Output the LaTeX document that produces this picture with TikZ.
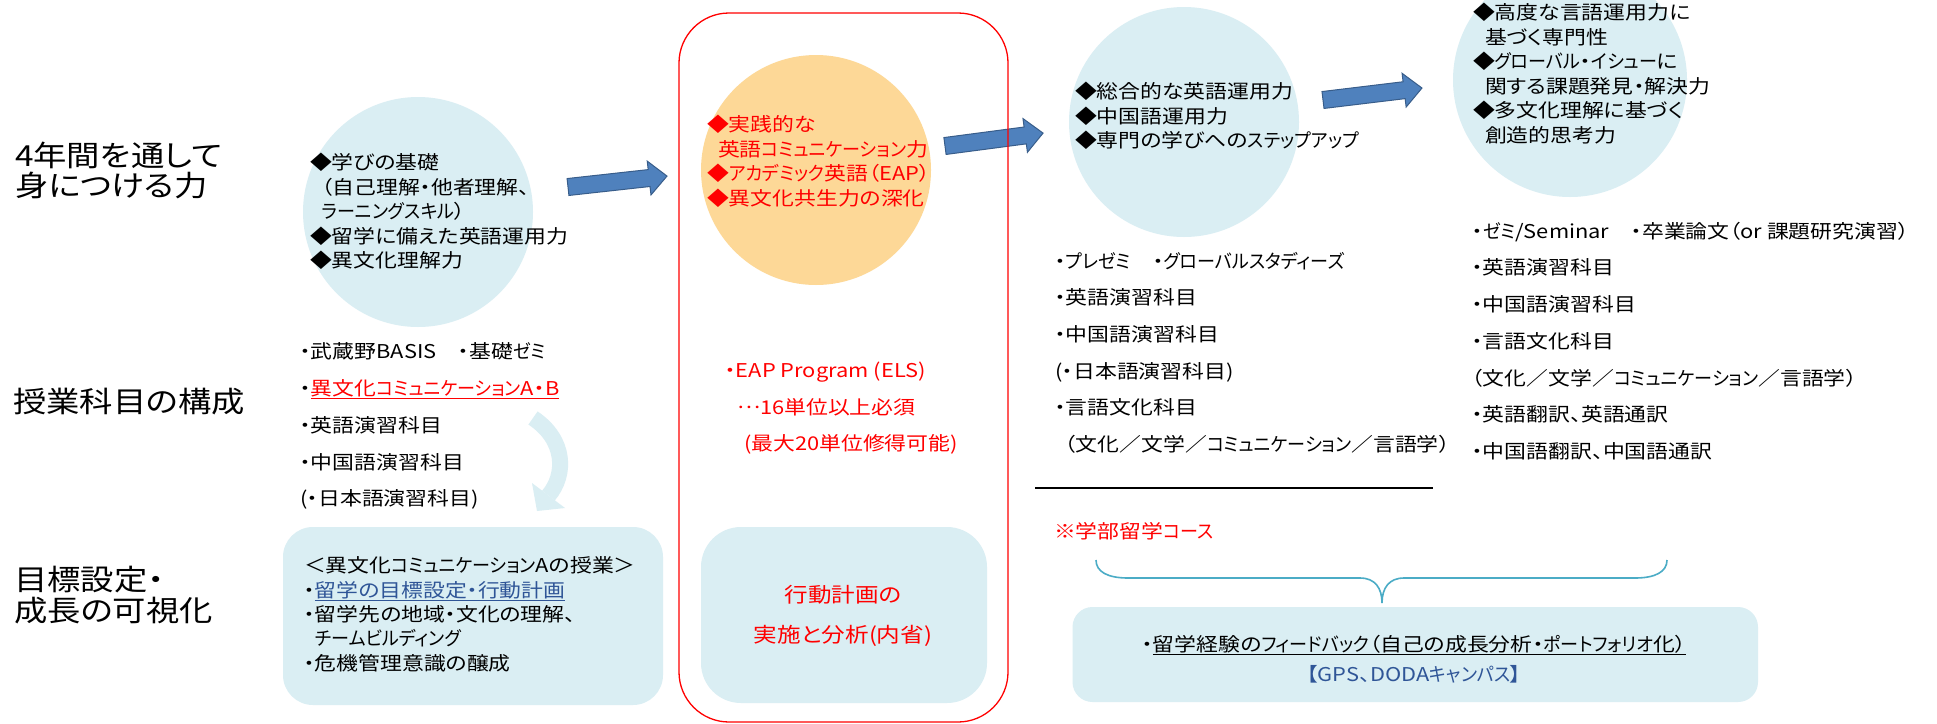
\documentclass[tikz,border=0pt]{standalone}
\usepackage{fontspec}
\setmainfont{Noto Sans CJK JP}[FakeStretch=1.15,RawFeature=+palt]
\newfontfamily\kanafont{Noto Sans CJK JP}[FakeStretch=0.95,RawFeature=+palt]
\newcommand\kt[1]{{\kanafont#1}}
\definecolor{lblue}{RGB}{218,238,243}
\definecolor{orng}{RGB}{253,216,151}
\definecolor{abl}{RGB}{79,129,189}
\definecolor{abd}{RGB}{56,93,138}
\definecolor{dkblue}{RGB}{47,85,151}
\definecolor{brc}{RGB}{75,172,198}
\newcommand\myul[1]{\setbox0\hbox{#1}\rlap{\rule[-3.6pt]{\wd0}{1.1pt}}\box0}
\tikzset{
  txt/.style={inner sep=0pt, outer sep=0pt, align=left, anchor=north west},
  body/.style={txt, font=\fontsize{19}{24.6}\selectfont},
  list/.style={txt, font=\fontsize{19}{36.7}\selectfont},
  lab/.style={txt, font=\fontsize{29}{30}\selectfont},
  bubble/.style={circle, draw=none, fill=lblue, minimum size=230pt, inner sep=0pt},
  panel/.style={rectangle, fill=lblue, draw=none, inner sep=0pt},
  barrow/.style={fill=abl, draw=abd, line width=1pt},
}
\begin{document}
\begin{tikzpicture}[x=1pt,y=-1pt]
\useasboundingbox (0,0) rectangle (1937,723);
\fill[white] (0,0) rectangle (1937,723);

% bubbles
\node[bubble] (c1) at (418,212) {};
\node[bubble, fill=orng] (c2) at (816,170) {};
\node[bubble] (c3) at (1184,122) {};
\node[bubble, minimum size=234pt] (c4) at (1570,80) {};

% panels
\node[panel, rounded corners=30pt, minimum width=380pt, minimum height=178pt] (p1) at (473,616) {};
\node[panel, rounded corners=40pt, minimum width=286pt, minimum height=176pt] (p2) at (844,615) {};
\node[panel, rounded corners=20pt, minimum width=685.5pt, minimum height=95pt] (p3) at (1415.25,654.5) {};

% row labels
\node[lab] (lab1) at (15,142) {4年間を通して\\身につける力};
\node[lab] (lab2) at (13,388) {授業科目の構成};
\node[lab, font=\fontsize{29}{31.5}\selectfont] (lab3) at (14,566) {目標設定・\\成長の可視化};

% column 1
\node[body] (t1) at (310,153) {◆学びの基礎\\\hspace*{12pt}（自己理解・他者理解、\\\hspace*{12pt}\kt{ラーニングスキル}）\\◆留学に備えた英語運用力\\◆異文化理解力};
\node[list] (l1) at (300,343) {・武蔵野BASIS　・基礎\kt{ゼミ}\\・\textcolor{red}{\myul{異文化\kt{コミュニケーション}A・B}}\\・英語演習科目\\・中国語演習科目\\(・日本語演習科目)};
\node[body, font=\fontsize{19}{24.3}\selectfont] (b1) at (304,557) {＜異文化\kt{コミュニケーション}Aの授業＞\\・\textcolor{dkblue}{\myul{留学の目標設定・行動計画}}\\・留学先の地域・文化の理解、\\\phantom{・}\kt{チームビルディング}\\・危機管理意識の醸成};

% curved arrow
\coordinate (ca1) at (533,418);
\coordinate (ca2) at (548.5,495.5);
\draw[lblue, line width=16pt] (ca1) .. controls (566,440) and (566,475) .. (ca2);
\fill[lblue] (532,483) -- (565,508) -- (537,511) -- cycle;

% column 2
\node[body, text=red] (t2) at (707,115) {◆実践的な\\\hspace*{11pt}英語\kt{コミュニケーション}力\\◆\kt{アカデミック}英語（EAP）\\◆異文化共生力の深化};
\node[list, text=red] (l2) at (725,362) {・EAP Program (ELS)\\\hspace*{12pt}\raisebox{6pt}{…}16単位以上必須\\\hspace*{19pt}(最大20単位修得可能)};
\node[txt, anchor=north, align=center, text=red, font=\fontsize{20.5}{40}\selectfont] (b2) at (843,585) {行動計画の\\実施と分析(内省)};

% column 3
\node[body] (t3) at (1075,82) {◆総合的な英語運用力\\◆中国語運用力\\◆専門の学びへの\kt{ステップアップ}};
\node[list] (l3) at (1055,252) {・\kt{プレゼミ}　・\kt{グローバルスタディーズ}\\・英語演習科目\\・中国語演習科目\\(・日本語演習科目)\\・言語文化科目\\\hspace*{10pt}（文化／文学／\kt{コミュニケーション}／言語学）};
\coordinate (hl1) at (1035,488);
\coordinate (hl2) at (1433,488);
\draw[black, line width=1.2pt] (hl1) -- (hl2);
\node[txt, text=red, font=\fontsize{19}{24}\selectfont] (note) at (1054,522) {※学部留学\kt{コース}};

% brace
\coordinate (brL) at (1096,560);
\coordinate (brM) at (1382,603);
\coordinate (brR) at (1667,560);
\draw[brc, line width=1.6pt] (brL) .. controls (1096,572) and (1108,578) .. (1128,578) -- (1360,578)
  .. controls (1375,578) and (1382,588) .. (brM) .. controls (1382,588) and (1389,578) .. (1404,578)
  -- (1635,578) .. controls (1655,578) and (1667,572) .. (brR);

\node[txt, anchor=north, align=center, font=\fontsize{19}{30}\selectfont] (b3) at (1414,635) {・\myul{留学経験の\kt{フィードバック}（自己の成長分析・\kt{ポートフォリオ}化）}\\\textcolor{dkblue}{【GPS、DODA\kt{キャンパス}】}};

% column 4
\node[body] (t4) at (1473,3) {◆高度な言語運用力に\\\hspace*{12pt}基づく専門性\\◆\kt{グローバル}・\kt{イシュー}に\\\hspace*{12pt}関する課題発見・解決力\\◆多文化理解に基づく\\\hspace*{12pt}創造的思考力};
\node[list] (l4) at (1472,222) {・\kt{ゼミ}/Seminar　・卒業論文（or 課題研究演習）\\・英語演習科目\\・中国語演習科目\\・言語文化科目\\（文化／文学／\kt{コミュニケーション}／言語学）\\・英語翻訳、英語通訳\\・中国語翻訳、中国語通訳};

% block arrows
\coordinate (a1) at (568,187);
\coordinate (a2) at (945,146);
\coordinate (a3) at (1323,100);
\begin{scope}[shift={(a1)}, rotate=6.3]
  \draw[barrow] (0,-8.5) -- (81.6,-8.5) -- (81.6,-17) -- (99.6,0) -- (81.6,17) -- (81.6,8.5) -- (0,8.5) -- cycle;
\end{scope}
\begin{scope}[shift={(a2)}, rotate=7.5]
  \draw[barrow] (0,-8.5) -- (80.9,-8.5) -- (80.9,-17) -- (98.9,0) -- (80.9,17) -- (80.9,8.5) -- (0,8.5) -- cycle;
\end{scope}
\begin{scope}[shift={(a3)}, rotate=6.9]
  \draw[barrow] (0,-8.5) -- (81.7,-8.5) -- (81.7,-17) -- (99.7,0) -- (81.7,17) -- (81.7,8.5) -- (0,8.5) -- cycle;
\end{scope}

% red frame
\node[draw=red, line width=1.3pt, rounded corners=50pt, minimum width=329pt, minimum height=709pt, inner sep=0pt] (frame) at (843.5,367.5) {};
\end{tikzpicture}
\end{document}
